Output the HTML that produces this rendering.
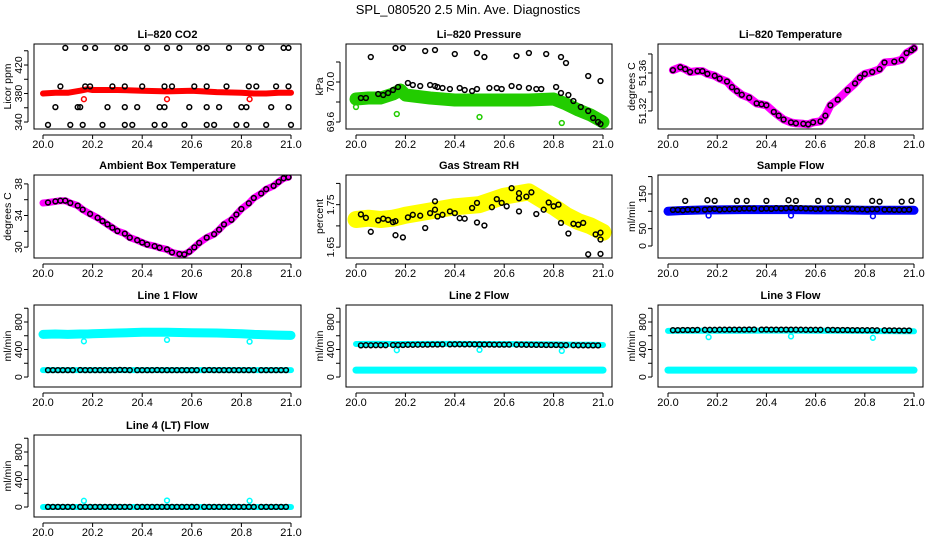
<!DOCTYPE html>
<html><head><meta charset="utf-8">
<style>
html,body{margin:0;padding:0;background:#fff;}
svg{display:block;font-family:"Liberation Sans",sans-serif;}
</style></head>
<body>
<svg id="chart" width="936" height="540" viewBox="0 0 936 540" xmlns="http://www.w3.org/2000/svg">
<rect width="936" height="540" fill="#fff"/>
<text x="468" y="14" font-size="13" text-anchor="middle">SPL_080520  2.5 Min. Ave. Diagnostics</text>
</svg>
<script>
// ---- data ----
const xTicks = [20.0,20.2,20.4,20.6,20.8,21.0];
const xTickLabels = ["20.0","20.2","20.4","20.6","20.8","21.0"];
const T = [20.02,20.04,20.06,20.08,20.10,20.12,20.15,20.17,20.19,20.21,20.23,20.25,20.27,20.29,20.31,20.33,20.35,20.38,20.40,20.42,20.44,20.46,20.48,20.50,20.52,20.54,20.56,20.58,20.60,20.62,20.65,20.67,20.69,20.71,20.73,20.75,20.77,20.79,20.81,20.83,20.85,20.88,20.90,20.92,20.94,20.96,20.98];
const bandX = [20.0,20.05,20.1,20.15,20.18,20.2,20.3,20.4,20.5,20.6,20.7,20.8,20.85,20.9,20.95,21.0];
const outlierX = [20.165,20.5,20.833];

// CO2
const co2X = [20.09,20.17,20.21,20.30,20.33,20.42,20.50,20.55,20.63,20.66,20.75,20.83,20.88,20.97,20.99,
 20.07,20.17,20.19,20.28,20.33,20.40,20.49,20.52,20.61,20.66,20.74,20.83,20.86,20.94,20.99,
 20.05,20.14,20.15,20.26,20.33,20.38,20.47,20.49,20.59,20.66,20.71,20.80,20.82,20.92,20.99,
 20.02,20.11,20.16,20.24,20.33,20.36,20.45,20.49,20.57,20.66,20.69,20.78,20.82,20.90,21.00];
const co2Y = [444,444,444,444,444,444,444,444,444,444,444,444,444,444,444,
 390,390,390,390,390,390,390,390,390,390,390,390,390,390,390,
 361,361,361,361,361,361,361,361,361,361,361,361,361,361,361,
 336,336,336,336,336,336,336,336,336,336,336,336,336,336,336];
const co2Band = [380,381,381,384,386,385,385,384,383,384,382,381,380,380,381,381];
const co2Out = [372,372,372];

// Pressure
const presX = [20.02,20.04,20.09,20.11,20.13,20.15,20.17,20.21,20.23,20.26,20.30,20.32,20.33,20.35,20.38,20.42,20.44,20.47,20.49,20.54,20.57,20.59,20.63,20.66,20.70,20.73,20.75,20.81,20.83,20.86,20.88,20.91,20.94,20.96,20.98,20.99,
 20.06,20.16,20.19,20.28,20.32,20.40,20.49,20.52,20.65,20.70,20.77,20.83,20.85,20.94,20.99];
const presY = [69.84,69.84,69.88,69.87,69.89,69.92,69.95,69.99,69.97,69.96,69.97,69.96,69.95,69.94,69.93,69.94,69.92,69.91,69.93,69.94,69.94,69.93,69.96,69.95,69.94,69.93,69.93,69.95,69.89,69.87,69.81,69.75,69.71,69.64,69.60,69.58,
 70.25,70.34,70.34,70.31,70.32,70.28,70.29,70.25,70.26,70.29,70.28,70.25,70.19,70.06,70.01];
const presBand = [69.83,69.84,69.84,69.88,69.92,69.87,69.84,69.82,69.82,69.82,69.82,69.83,69.78,69.72,69.67,69.60];
const presOut = [69.68,69.65,69.59];

// Li-820 temperature
const ltX = [20.02,20.05,20.07,20.09,20.12,20.14,20.16,20.19,20.21,20.24,20.26,20.28,20.30,20.33,20.36,20.38,20.40,20.43,20.45,20.47,20.50,20.52,20.55,20.57,20.59,20.62,20.64,20.66,20.69,20.73,20.76,20.78,20.80,20.83,20.86,20.88,20.92,20.95,20.97,20.99,21.00];
const ltY = [51.363,51.366,51.364,51.361,51.362,51.362,51.359,51.357,51.354,51.351,51.345,51.341,51.337,51.334,51.328,51.327,51.326,51.319,51.315,51.311,51.308,51.307,51.3065,51.306,51.308,51.309,51.315,51.326,51.332,51.342,51.349,51.355,51.359,51.361,51.364,51.371,51.372,51.374,51.381,51.384,51.386];

// Ambient box temperature
const abX = [20.0,20.02,20.05,20.07,20.09,20.11,20.14,20.16,20.19,20.22,20.24,20.26,20.28,20.30,20.33,20.35,20.38,20.40,20.42,20.45,20.47,20.50,20.52,20.55,20.57,20.59,20.61,20.63,20.66,20.69,20.71,20.73,20.76,20.78,20.80,20.83,20.85,20.88,20.90,20.93,20.95,20.97,20.99];
const abY = [35.58,35.65,35.79,35.88,35.88,35.58,35.25,34.75,34.21,33.71,33.29,32.88,32.46,32.04,31.71,31.21,30.88,30.58,30.33,30.13,29.92,29.71,29.33,29.13,29.08,29.42,29.96,30.54,31.21,31.63,32.21,32.88,33.46,34.13,34.83,35.54,36.21,36.79,37.33,37.75,38.25,38.71,38.85];

// Gas stream RH
const rhX = [20.02,20.04,20.06,20.09,20.11,20.13,20.15,20.16,20.16,20.19,20.21,20.23,20.26,20.28,20.30,20.32,20.33,20.32,20.35,20.38,20.40,20.42,20.44,20.47,20.49,20.49,20.52,20.55,20.57,20.59,20.61,20.63,20.66,20.66,20.66,20.69,20.71,20.73,20.76,20.78,20.80,20.82,20.83,20.86,20.88,20.90,20.92,20.94,20.97,20.99,20.99,20.99];
const rhY = [1.727,1.719,1.686,1.713,1.717,1.714,1.709,1.711,1.678,1.673,1.720,1.726,1.724,1.695,1.730,1.738,1.722,1.758,1.726,1.734,1.730,1.718,1.717,1.742,1.708,1.754,1.701,1.744,1.763,1.754,1.746,1.789,1.734,1.765,1.777,1.769,1.779,1.728,1.738,1.755,1.746,1.750,1.707,1.682,1.705,1.703,1.707,1.633,1.680,1.634,1.668,1.684];
const rhBand = [1.715,1.718,1.715,1.718,1.722,1.725,1.735,1.745,1.750,1.770,1.780,1.745,1.725,1.710,1.700,1.685];

// Sample flow
const sfUpX = [20.07,20.16,20.19,20.28,20.32,20.40,20.49,20.52,20.61,20.66,20.73,20.83,20.86,20.95,20.99];
const sfUpY = [130,132,130,130,130,130,132,130,130,130,129,130,128,128,130];
const sfMain = [104,104,103,105,105,105,105,106,107,105,106,106,107,107,108,108,108,107,108,107,109,108,109,110,109,109,108,108,107,107,108,108,107,107,107,107,106,106,105,106,106,105,105,104,104,104,105];
const sfBand = [100,102,103,104,104,104,105,105,105,104,104,103,103,103,103,103];
const sfOut = [88,88,86];

// Line flows
const l1Black = [100,101,100,101,100,100,102,101,101,100,100,101,100,101,103,102,101,100,101,100,101,102,101,101,100,101,100,101,100,101,100,102,100,101,100,101,100,100,101,100,101,100,100,101,100,100,101];
const l1Upper = [620,625,620,625,625,630,640,650,650,645,640,630,620,615,610,605];
const l1Lower = [100,100,100,100,100,100,100,100,100,100,100,100,100,100,100,100];
const l1Out = [520,540,515];
const l2Black = [460,462,461,463,463,462,465,466,466,468,469,470,470,472,473,473,474,474,475,475,474,475,474,474,473,473,472,472,471,471,470,470,469,468,467,467,466,465,465,464,463,462,461,461,460,460,460];
const l2Upper = [480,482,482,480,480,480,481,482,480,478,476,474,472,470,468,465];
const l2Lower = [100,100,100,100,100,100,100,100,100,100,100,100,100,100,100,100];
const l2Out = [390,395,380];
const l3Black = [680,682,683,684,684,685,686,686,687,688,688,689,690,690,690,691,691,690,691,690,690,690,689,689,688,688,687,687,686,686,685,685,684,683,683,682,682,681,680,680,679,679,678,678,677,677,676];
const l3Upper = [670,672,672,672,672,672,674,675,675,674,672,670,668,667,666,665];
const l3Lower = [100,100,100,100,100,100,100,100,100,100,100,100,100,100,100,100];
const l3Out = [580,590,570];
const l4Black = [2,2,2,2,2,2,2,2,2,2,2,2,2,2,2,2,2,2,2,2,2,2,2,2,2,2,2,2,2,2,2,2,2,2,2,2,2,2,2,2,2,2,2,2,2,2,2];
const l4Band = [0,0,0,0,0,0,0,0,0,0,0,0,0,0,0,0];
const l4Out = [90,95,90];

// ---- drawing ----
const svg = document.getElementById('chart');
const NS = 'http://www.w3.org/2000/svg';
const cols = [{l:34,r:301,x0:43,x1:291},{l:346,r:612,x0:356,x1:603},{l:658,r:923,x0:668,x1:914}];
const rows = [{t:44,b:129},{t:175,b:258},{t:305,b:387},{t:435,b:517}];

function mk(tag, attrs, parent){
  const e = document.createElementNS(NS, tag);
  for (const k in attrs) e.setAttribute(k, attrs[k]);
  (parent||svg).appendChild(e);
  return e;
}

function panel(p){
  const c = cols[p.col], r = rows[p.row];
  const g = mk('g', {});
  
  
  const sx = v => c.x0 + (v-20)*(c.x1-c.x0);
  const sy = v => r.b - (v-p.ylim[0])/(p.ylim[1]-p.ylim[0])*(r.b-r.t);
  const clip = mk('clipPath', {id:'clip-'+p.name}, g);
  mk('rect', {x:c.l, y:r.t, width:c.r-c.l, height:r.b-r.t}, clip);
  const data = mk('g', {'clip-path':'url(#clip-'+p.name+')'}, g);
  
  
  p.series.forEach(s => {
    if (s.type === 'band') {
      const pts = s.x.map((x,i)=>sx(x).toFixed(1)+','+sy(s.y[i]).toFixed(1)).join(' ');
      const pl = mk('polyline', {points:pts, fill:'none', stroke:s.color, 'stroke-width':s.w, 'stroke-linejoin':'round', 'stroke-linecap':'round'}, data);
      
      
    } else {
      s.x.forEach((x,i) => {
        const ci = mk('circle', {cx:sx(x).toFixed(1), cy:sy(s.y[i]).toFixed(1), r:2.4, fill:'none', stroke:s.color, 'stroke-width':1.5}, data);
        
        
      });
    }
  });
  const box = mk('rect', {x:c.l, y:r.t, width:c.r-c.l, height:r.b-r.t, fill:'none', stroke:'#000', 'stroke-width':1}, g);
  
  
  // x axis
  const xa = mk('g', {}, g);
  
  
  mk('line', {x1:sx(xTicks[0]), x2:sx(xTicks[xTicks.length-1]), y1:r.b+6, y2:r.b+6, stroke:'#000'}, xa);
  xTicks.forEach((v,i) => {
    mk('line', {x1:sx(v), x2:sx(v), y1:r.b+6, y2:r.b+10, stroke:'#000'}, xa);
    const t = mk('text', {x:sx(v), y:r.b+19, 'font-size':11, 'text-anchor':'middle'}, xa);
    t.textContent = xTickLabels[i];
  });
  // y axis
  const ya = mk('g', {}, g);
  
  
  const ax = c.l - 6;
  mk('line', {x1:ax, x2:ax, y1:sy(p.ticks[0]), y2:sy(p.ticks[p.ticks.length-1]), stroke:'#000'}, ya);
  p.ticks.forEach(v => mk('line', {x1:ax-4, x2:ax, y1:sy(v), y2:sy(v), stroke:'#000'}, ya));
  p.labels.forEach((v,i) => {
    const y = sy(v);
    const lx = ax-6;
    const t = mk('text', {x:lx, y:y, 'font-size':10.5, 'text-anchor':'middle', transform:`rotate(-90 ${lx} ${y})`}, ya);
    t.textContent = p.labelText[i];
  });
  const yx = c.l-23;
  const yl = mk('text', {x:yx, y:(r.t+r.b)/2, 'font-size':10.5, 'text-anchor':'middle', transform:`rotate(-90 ${yx} ${(r.t+r.b)/2})`}, g);
  
  
  yl.textContent = p.ylab;
  const tt = mk('text', {x:(c.l+c.r)/2, y:r.t-6, 'font-size':11, 'font-weight':'bold', 'text-anchor':'middle'}, g);
  
  
  tt.textContent = p.title;
}

const flowTicks = [0,200,400,600,800,1000];
const flowLabels = [0,400,800];
const flowLabelText = ["0","400","800"];

panel({name:'co2-panel', col:0,row:0,title:'Li–820 CO2',ylab:'Licor ppm',ylim:[330.2,449.5],
  ticks:[340,360,380,400,420,440],labels:[340,380,420],labelText:["340","380","420"],
  series:[{type:'band',name:'co2-band',x:bandX,y:co2Band,color:'#ff0000',w:6},
          {type:'pts',name:'co2-outlier',x:outlierX,y:co2Out,color:'#ff0000'},
          {type:'pts',name:'co2-point',x:co2X,y:co2Y,color:'#000'}]});
panel({name:'pressure-panel', col:1,row:0,title:'Li–820 Pressure',ylab:'kPa',ylim:[69.53,70.38],
  ticks:[69.6,69.8,70.0,70.2],labels:[69.6,70.0],labelText:["69.6","70.0"],
  series:[{type:'band',name:'pressure-band',x:bandX,y:presBand,color:'#22cc00',w:13},
          {type:'pts',name:'pressure-outlier',x:[20.0].concat(outlierX),y:[69.75].concat(presOut),color:'#22cc00'},
          {type:'pts',name:'pressure-point',x:presX,y:presY,color:'#000'}]});
panel({name:'li820-temp-panel', col:2,row:0,title:'Li–820 Temperature',ylab:'degrees C',ylim:[51.301,51.3905],
  ticks:[51.32,51.34,51.36,51.38],labels:[51.32,51.36],labelText:["51.32","51.36"],
  series:[{type:'band',name:'li820-temp-band',x:ltX,y:ltY,color:'#ff00ff',w:8},
          {type:'pts',name:'li820-temp-point',x:ltX,y:ltY,color:'#000'}]});
panel({name:'ambient-temp-panel', col:0,row:1,title:'Ambient Box Temperature',ylab:'degrees C',ylim:[28.625,39.125],
  ticks:[30,32,34,36,38],labels:[30,34,38],labelText:["30","34","38"],
  series:[{type:'band',name:'ambient-temp-band',x:abX,y:abY,color:'#ff00ff',w:7},
          {type:'pts',name:'ambient-temp-point',x:abX.slice(1),y:abY.slice(1),color:'#000'}]});
panel({name:'rh-panel', col:1,row:1,title:'Gas Stream RH',ylab:'percent',ylim:[1.6244,1.8198],
  ticks:[1.65,1.70,1.75,1.80],labels:[1.65,1.75],labelText:["1.65","1.75"],
  series:[{type:'band',name:'rh-band',x:bandX,y:rhBand,color:'#ffff00',w:17},
          {type:'pts',name:'rh-point',x:rhX,y:rhY,color:'#000'}]});
panel({name:'sample-flow-panel', col:2,row:1,title:'Sample Flow',ylab:'ml/min',ylim:[-34.6,204.6],
  ticks:[0,50,100,150,200],labels:[0,50,150],labelText:["0","50","150"],
  series:[{type:'band',name:'sample-flow-band',x:bandX,y:sfBand,color:'#0000ff',w:9},
          {type:'pts',name:'sample-flow-outlier',x:outlierX,y:sfOut,color:'#0000ff'},
          {type:'pts',name:'sample-flow-point',x:T,y:sfMain,color:'#000'},
          {type:'pts',name:'sample-flow-high-point',x:sfUpX,y:sfUpY,color:'#000'}]});
panel({name:'line1-flow-panel', col:0,row:2,title:'Line 1 Flow',ylab:'ml/min',ylim:[-145,1047],
  ticks:flowTicks,labels:flowLabels,labelText:flowLabelText,
  series:[{type:'band',name:'line1-upper-band',x:bandX,y:l1Upper,color:'#00ffff',w:9},
          {type:'band',name:'line1-lower-band',x:bandX,y:l1Lower,color:'#00ffff',w:6},
          {type:'pts',name:'line1-outlier',x:outlierX,y:l1Out,color:'#00ffff'},
          {type:'pts',name:'line1-point',x:T,y:l1Black,color:'#000'}]});
panel({name:'line2-flow-panel', col:1,row:2,title:'Line 2 Flow',ylab:'ml/min',ylim:[-145,1047],
  ticks:flowTicks,labels:flowLabels,labelText:flowLabelText,
  series:[{type:'band',name:'line2-upper-band',x:bandX,y:l2Upper,color:'#00ffff',w:6},
          {type:'band',name:'line2-lower-band',x:bandX,y:l2Lower,color:'#00ffff',w:7},
          {type:'pts',name:'line2-outlier',x:outlierX,y:l2Out,color:'#00ffff'},
          {type:'pts',name:'line2-point',x:T,y:l2Black,color:'#000'}]});
panel({name:'line3-flow-panel', col:2,row:2,title:'Line 3 Flow',ylab:'ml/min',ylim:[-145,1047],
  ticks:flowTicks,labels:flowLabels,labelText:flowLabelText,
  series:[{type:'band',name:'line3-upper-band',x:bandX,y:l3Upper,color:'#00ffff',w:6},
          {type:'band',name:'line3-lower-band',x:bandX,y:l3Lower,color:'#00ffff',w:7},
          {type:'pts',name:'line3-outlier',x:outlierX,y:l3Out,color:'#00ffff'},
          {type:'pts',name:'line3-point',x:T,y:l3Black,color:'#000'}]});
panel({name:'line4-flow-panel', col:0,row:3,title:'Line 4 (LT) Flow',ylab:'ml/min',ylim:[-145,1047],
  ticks:flowTicks,labels:flowLabels,labelText:flowLabelText,
  series:[{type:'band',name:'line4-band',x:bandX,y:l4Band,color:'#00ffff',w:6},
          {type:'pts',name:'line4-outlier',x:outlierX,y:l4Out,color:'#00ffff'},
          {type:'pts',name:'line4-point',x:T,y:l4Black,color:'#000'}]});
</script>
</body></html>
